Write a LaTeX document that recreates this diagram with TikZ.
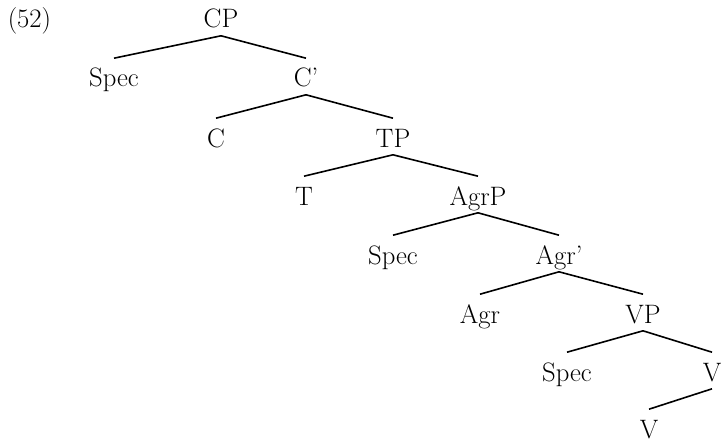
\documentclass[tikz,border=0pt]{standalone}
\usepackage{fontspec}

\tikzset{every picture/.style={line width=1.2pt}}
\tikzset{cat/.style={anchor=base,inner sep=0pt,text height=21pt,text depth=5.25pt,font=\fontsize{20}{24}\selectfont}}

\begin{document}
\begin{tikzpicture}[x=0.75pt,y=0.75pt,yscale=-1,xscale=1]
\useasboundingbox (0,0) rectangle (723,442);

% Text Node
\draw (7,28) node [anchor=base west][inner sep=0pt][font=\fontsize{20}{24}\selectfont] (ex) {(52)};

% Text Node
\draw (221,28) node [cat] (CP) {CP};
% Text Node
\draw (114,87) node [cat] (specC) {Spec};
% Text Node
\draw (306,87) node [cat] (Cbar) {C'};
% Text Node
\draw (216,147) node [cat] (C) {C};
% Text Node
\draw (393,147) node [cat] (TP) {TP};
% Text Node
\draw (304,205) node [cat] (T) {T};
% Text Node
\draw (478,205) node [cat] (AgrP) {AgrP};
% Text Node
\draw (393,264) node [cat] (specAgr) {Spec};
% Text Node
\draw (559,264) node [cat] (Agrbar) {Agr'};
% Text Node
\draw (480,323) node [cat] (Agr) {Agr};
% Text Node
\draw (643,323) node [cat] (VP) {VP};
% Text Node
\draw (567,381) node [cat] (specV) {Spec};
% Text Node
\draw (712,381) node [cat] (Vbar) {V};
% Text Node
\draw (649,438) node [cat] (V) {V};

%Straight Lines
\draw (CP.south) -- (specC.north) ;
\draw (CP.south) -- (Cbar.north) ;
%Straight Lines
\draw (Cbar.south) -- (C.north) ;
\draw (Cbar.south) -- (TP.north) ;
%Straight Lines
\draw (TP.south) -- (T.north) ;
\draw (TP.south) -- (AgrP.north) ;
%Straight Lines
\draw (AgrP.south) -- (specAgr.north) ;
\draw (AgrP.south) -- (Agrbar.north) ;
%Straight Lines
\draw (Agrbar.south) -- (Agr.north) ;
\draw (Agrbar.south) -- (VP.north) ;
%Straight Lines
\draw (VP.south) -- (specV.north) ;
\draw (VP.south) -- (Vbar.north) ;
%Straight Lines
\draw (Vbar.south) -- (V.north) ;

\end{tikzpicture}
\end{document}
